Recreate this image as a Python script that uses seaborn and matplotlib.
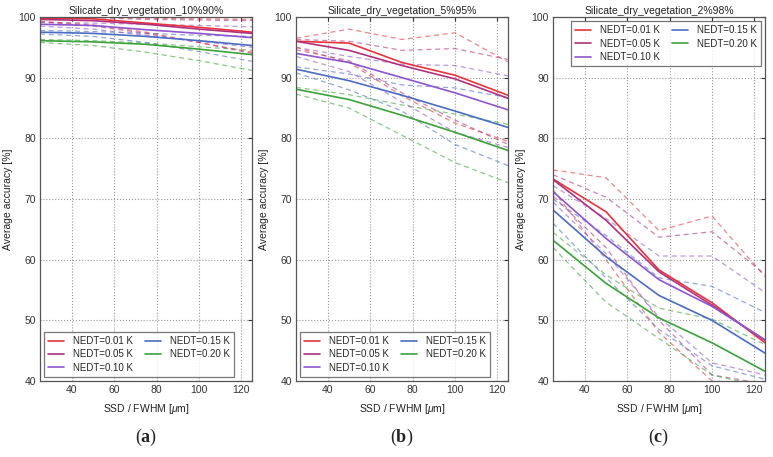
import matplotlib
matplotlib.use("Agg")
import matplotlib.pyplot as plt
import seaborn as sns
import pandas as pd

# ---------------- data ----------------
ssd = [25, 50, 75, 100, 125]
nedt_labels = ["NEDT=0.01 K", "NEDT=0.05 K", "NEDT=0.10 K", "NEDT=0.15 K", "NEDT=0.20 K"]
titles = ["Silicate_dry_vegetation_10%90%", "Silicate_dry_vegetation_5%95%",
          "Silicate_dry_vegetation_2%98%"]
panel_tags = ["a", "b", "c"]

# panel (a)
a_mean = [[99.8, 99.7, 99.0, 98.3, 97.5],
          [99.6, 99.4, 98.8, 98.0, 97.3],
          [98.8, 98.6, 97.9, 97.3, 96.6],
          [97.5, 97.3, 96.8, 96.1, 95.3],
          [96.1, 95.9, 95.5, 94.7, 93.8]]
a_upper = [[100.0, 100.0, 99.8, 99.7, 99.6],
           [99.9, 99.9, 99.6, 99.5, 99.4],
           [99.1, 99.0, 98.8, 98.6, 98.4],
           [97.8, 97.6, 97.3, 97.0, 96.8],
           [96.3, 96.1, 95.7, 95.1, 94.5]]
a_lower = [[99.3, 98.7, 97.5, 95.8, 94.2],
           [99.2, 98.5, 97.3, 95.8, 94.0],
           [98.5, 98.0, 97.0, 96.0, 95.0],
           [97.2, 96.8, 95.8, 94.3, 92.7],
           [95.8, 95.3, 94.2, 92.8, 91.2]]

# panel (b)
b_mean = [[96.0, 95.7, 92.5, 90.4, 87.1],
          [96.0, 94.5, 92.0, 89.8, 86.6],
          [94.0, 92.5, 90.0, 87.5, 84.7],
          [91.4, 89.5, 87.1, 84.5, 81.8],
          [88.1, 86.4, 83.8, 81.0, 78.0]]
b_upper = [[96.5, 98.0, 96.3, 97.4, 92.6],
           [96.3, 96.0, 94.5, 94.8, 93.0],
           [95.0, 93.5, 92.2, 92.0, 90.3],
           [91.8, 90.6, 88.8, 88.3, 86.7],
           [88.4, 87.2, 85.5, 84.0, 82.3]]
b_lower = [[95.0, 92.5, 87.0, 82.5, 79.5],
           [94.6, 92.8, 87.5, 83.0, 79.0],
           [93.5, 91.0, 86.0, 81.0, 78.5],
           [90.8, 88.0, 84.5, 79.0, 75.5],
           [87.3, 85.0, 80.5, 76.0, 72.7]]

# panel (c)
c_mean = [[73.3, 67.9, 58.3, 52.9, 46.3],
          [73.2, 66.5, 58.0, 52.5, 46.7],
          [71.2, 63.5, 56.7, 52.3, 46.8],
          [68.2, 60.5, 54.1, 50.0, 44.6],
          [63.2, 56.1, 50.4, 46.3, 41.6]]
c_upper = [[74.8, 73.5, 64.8, 67.2, 57.2],
           [74.0, 70.3, 63.7, 64.6, 57.6],
           [72.2, 66.8, 60.6, 60.6, 54.6],
           [70.0, 64.0, 57.0, 55.6, 51.3],
           [64.5, 57.5, 52.0, 50.2, 46.0]]
c_lower = [[71.5, 60.0, 48.0, 40.0, 38.0],
           [70.5, 62.0, 50.0, 41.0, 39.5],
           [69.5, 61.0, 50.5, 43.0, 41.0],
           [66.0, 57.0, 48.5, 42.5, 40.3],
           [62.0, 53.0, 47.0, 41.0, 39.0]]

colors = ["#e8333a", "#b0307e", "#8e55d0", "#4a6cc4", "#3aa33a"]

# ---------------- style ----------------
sns.set_style("white")
plt.rcParams["font.family"] = ["Liberation Sans", "DejaVu Sans"]
plt.rcParams["mathtext.fontset"] = "custom"
plt.rcParams["mathtext.it"] = "Liberation Sans:italic"
plt.rcParams["mathtext.rm"] = "Liberation Sans"
plt.rcParams["mathtext.bf"] = "Liberation Serif:bold"

fig = plt.figure(figsize=(7.73, 4.57), dpi=100)
lefts = [40 / 773, 296 / 773, 553 / 773]
w = 212 / 773
bottom = 1 - 381 / 457
h = (381 - 17) / 457

panels = [(a_mean, a_upper, a_lower), (b_mean, b_upper, b_lower), (c_mean, c_upper, c_lower)]
legend_locs = ["lower left", "lower left", "upper right"]

def to_df(rows):
    recs = []
    for lab, vals in zip(nedt_labels, rows):
        for xv, yv in zip(ssd, vals):
            recs.append({"ssd": xv, "acc": yv, "nedt": lab})
    return pd.DataFrame(recs)

pal = dict(zip(nedt_labels, colors))

for i, (mean, up, lo) in enumerate(panels):
    ax = fig.add_axes([lefts[i], bottom, w, h])
    for rows in (up, lo):
        sns.lineplot(data=to_df(rows), x="ssd", y="acc", hue="nedt", palette=pal,
                     ax=ax, legend=False, linewidth=0.9, alpha=0.6)
        for ln in ax.lines[-5:]:
            ln.set_dashes([4, 3])
    sns.lineplot(data=to_df(mean), x="ssd", y="acc", hue="nedt", palette=pal,
                 ax=ax, linewidth=1.2)
    ax.set_xlim(25, 125)
    ax.set_ylim(40, 100)
    ax.set_xticks([40, 60, 80, 100, 120])
    ax.set_yticks([40, 50, 60, 70, 80, 90, 100])
    ax.grid(True, linestyle=":", color="#999999", linewidth=0.8)
    ax.tick_params(labelsize=7.5, direction="in", length=3, top=True, right=True,
                   colors="#333333", pad=3)
    for s in ax.spines.values():
        s.set_color("#555555")
        s.set_linewidth(0.9)
    ax.set_title(titles[i], fontsize=7.5, pad=2, color="#222222")
    ax.set_xlabel(r"SSD / FWHM [$\mu$m]", fontsize=7.5, color="#222222", labelpad=5)
    ax.set_ylabel("Average accuracy [%]", fontsize=7.5, color="#222222", labelpad=4)
    leg = ax.legend(loc=legend_locs[i], ncol=2, fontsize=7, frameon=True,
                    fancybox=False, borderaxespad=0.4, handlelength=1.6,
                    handletextpad=0.9, columnspacing=1.3, labelspacing=0.35,
                    borderpad=0.45)
    leg.get_frame().set_edgecolor("#555555")
    leg.get_frame().set_linewidth(0.9)
    fig.text(lefts[i] + w / 2, 1 - 437 / 457, "(" + r"$\mathbf{" + panel_tags[i] + "}$" + ")",
             ha="center", va="center", fontsize=13, family="Liberation Serif")

fig.savefig("out.png", dpi=100)
